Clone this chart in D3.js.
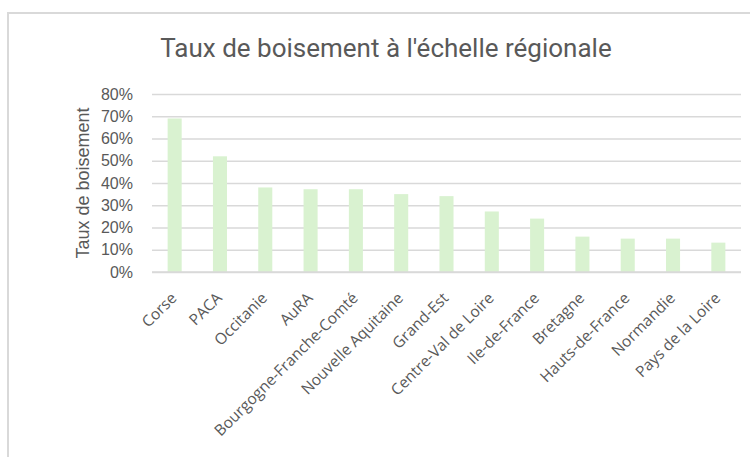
<!DOCTYPE html>
<html>
<head>
<meta charset="utf-8">
<script src="https://cdn.jsdelivr.net/npm/d3@7"></script>
<style>
  body { margin: 0; background: #fff; }
</style>
</head>
<body>
<div id="chart"></div>
<script>
// Taux de boisement par région
var regions = ["Corse", "PACA", "Occitanie", "AuRA", "Bourgogne-Franche-Comté",
  "Nouvelle Aquitaine", "Grand-Est", "Centre-Val de Loire", "Ile-de-France",
  "Bretagne", "Hauts-de-France", "Normandie", "Pays de la Loire"];
var tauxBoisement = [0.69, 0.52, 0.38, 0.372, 0.372, 0.35, 0.341, 0.272, 0.24, 0.159, 0.15, 0.15, 0.132];
var yTicks = [0, 0.1, 0.2, 0.3, 0.4, 0.5, 0.6, 0.7, 0.8];
var chartTitle = "Taux de boisement à l'échelle régionale";
var yTitle = "Taux de boisement";

var width = 750,
    height = 457,
    margin = {top: 94, right: 9, bottom: 185, left: 152},
    grey = "#595959";

var svg = d3.select("#chart").append("svg")
    .attr("width", width)
    .attr("height", height);

// chart area border
svg.append("rect")
    .attr("x", 8).attr("y", 13)
    .attr("width", 800).attr("height", 500)
    .attr("fill", "none")
    .attr("stroke", "#d9d9d9")
    .attr("stroke-width", 2);

svg.append("text")
    .attr("x", 386)
    .attr("y", 57)
    .attr("text-anchor", "middle")
    .style("font-family", "Roboto, 'Liberation Sans', sans-serif")
    .style("font-size", "26px")
    .style("fill", grey)
    .text(chartTitle);

var x = d3.scaleBand()
    .domain(regions)
    .range([margin.left, width - margin.right])
    .paddingInner(0.69)
    .paddingOuter(0.345);

var y = d3.scaleLinear()
    .domain([0, 0.8])
    .range([height - margin.bottom, margin.top]);

// gridlines
svg.append("g")
    .attr("class", "grid")
    .attr("transform", "translate(" + margin.left + ",0)")
    .call(d3.axisLeft(y).tickValues(yTicks).tickSize(-(width - margin.left - margin.right)).tickFormat(""))
    .call(function(g) { g.select(".domain").remove(); })
    .selectAll("line")
    .attr("stroke", "#d9d9d9")
    .attr("stroke-width", 1.5);

// y axis labels
svg.append("g")
    .attr("class", "axis y")
    .attr("transform", "translate(" + margin.left + ",0)")
    .call(d3.axisLeft(y).tickValues(yTicks).tickSize(0).tickPadding(19).tickFormat(d3.format(".0%")))
    .call(function(g) { g.select(".domain").remove(); })
    .selectAll("text")
    .style("font-family", "'Liberation Sans', Arial, sans-serif")
    .style("font-size", "16px")
    .style("fill", grey);

svg.append("text")
    .attr("transform", "translate(89," + ((margin.top + height - margin.bottom) / 2) + ") rotate(-90)")
    .attr("text-anchor", "middle")
    .style("font-family", "'Liberation Sans', Arial, sans-serif")
    .style("font-size", "18px")
    .style("fill", grey)
    .text(yTitle);

// bars
svg.append("g")
    .selectAll("rect")
    .data(tauxBoisement)
    .enter().append("rect")
    .attr("x", function(d, i) { return x(regions[i]); })
    .attr("y", function(d) { return y(d); })
    .attr("width", x.bandwidth())
    .attr("height", function(d) { return y(0) - y(d); })
    .attr("fill", "#d9f2d0");

// baseline
svg.append("line")
    .attr("x1", margin.left).attr("x2", width - margin.right)
    .attr("y1", y(0)).attr("y2", y(0))
    .attr("stroke", "#d9d9d9")
    .attr("stroke-width", 1.5);

// x axis labels, rotated
svg.append("g")
    .attr("class", "axis x")
    .selectAll("text")
    .data(regions)
    .enter().append("text")
    .attr("transform", function(d) {
      return "translate(" + (x(d) + x.bandwidth() / 2 + 3) + "," + (y(0) + 27) + ") rotate(-45)";
    })
    .attr("text-anchor", "end")
    .style("font-family", "'Open Sans', sans-serif")
    .style("font-size", "15.5px")
    .style("fill", grey)
    .text(function(d) { return d; });
</script>
</body>
</html>
